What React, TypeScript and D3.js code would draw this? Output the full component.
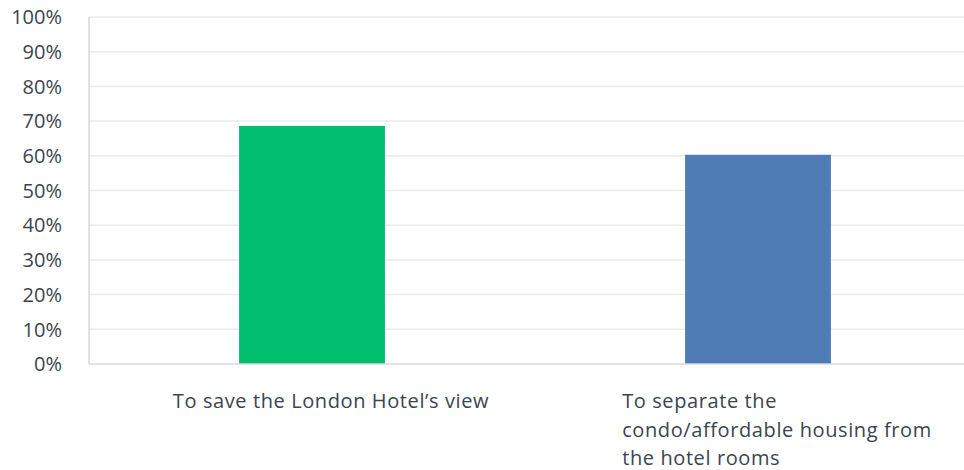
import * as d3 from "d3";
import { useEffect, useRef } from "react";

const categories = [
  ["To save the London Hotel\u2019s view"],
  ["To separate the", "condo/affordable housing from", "the hotel rooms"],
];
const values = [0.686, 0.603];
const colors = ["#02bf6f", "#507cb6"];
const ticks = [0, 0.1, 0.2, 0.3, 0.4, 0.5, 0.6, 0.7, 0.8, 0.9, 1];

const width = 964;
const height = 470;
const margin = { top: 17, left: 89, bottom: 106 };
const plotRight = 981;
const font = "'Open Sans', sans-serif";
const textColor = "#3a4550";

const App = () => {
  const ref = useRef<SVGSVGElement | null>(null);

  useEffect(() => {
    if (!ref.current) return;
    const svg = d3.select(ref.current);
    svg.selectAll("*").remove();

    const y = d3
      .scaleLinear()
      .domain([0, 1])
      .range([height - margin.bottom, margin.top]);
    const x = d3
      .scaleBand<number>()
      .domain(d3.range(values.length))
      .range([margin.left, plotRight])
      .paddingInner(0.673)
      .paddingOuter(0.3365);

    // gridlines
    svg
      .append("g")
      .selectAll("line")
      .data(ticks.slice(1))
      .join("line")
      .attr("x1", margin.left)
      .attr("x2", plotRight)
      .attr("y1", (d) => y(d))
      .attr("y2", (d) => y(d))
      .attr("stroke", "#ebebeb")
      .attr("stroke-width", 1.5);

    // bars
    svg
      .append("g")
      .selectAll("rect")
      .data(values)
      .join("rect")
      .attr("x", (_, i) => x(i)!)
      .attr("width", x.bandwidth())
      .attr("y", (d) => y(d))
      .attr("height", (d) => y(0) - y(d))
      .attr("fill", (_, i) => colors[i]);

    // axis lines
    svg
      .append("line")
      .attr("x1", margin.left)
      .attr("x2", margin.left)
      .attr("y1", y(1))
      .attr("y2", y(0))
      .attr("stroke", "#d9d9d9")
      .attr("stroke-width", 1.5);
    svg
      .append("line")
      .attr("x1", margin.left)
      .attr("x2", plotRight)
      .attr("y1", y(0))
      .attr("y2", y(0))
      .attr("stroke", "#d9d9d9")
      .attr("stroke-width", 1.5);

    // y tick labels
    svg
      .append("g")
      .selectAll("text")
      .data(ticks)
      .join("text")
      .attr("x", 62)
      .attr("y", (d) => y(d))
      .attr("dy", "0.36em")
      .attr("text-anchor", "end")
      .attr("font-family", font)
      .attr("font-size", 20)
      .attr("fill", textColor)
      .text((d) => d3.format(".0%")(d));

    // category labels, left aligned block centred under each bar
    categories.forEach((lines, i) => {
      const g = svg.append("g");
      const t = g
        .selectAll("text")
        .data(lines)
        .join("text")
        .attr("y", (_, j) => 408 + j * 28.5)
        .attr("font-family", font)
        .attr("font-size", 20)
        .attr("letter-spacing", 0.6)
        .attr("fill", textColor)
        .text((d) => d);
      const w = d3.max(t.nodes(), (n) => (n as SVGTextElement).getComputedTextLength()) ?? 0;
      const cx = x(i)! + x.bandwidth() / 2 + 19;
      t.attr("x", cx - w / 2);
    });
  }, []);

  return (
    <svg
      ref={ref}
      width={width}
      height={height}
      style={{ position: "absolute", left: 0, top: 0, background: "#fff" }}
    />
  );
};

export default App;
